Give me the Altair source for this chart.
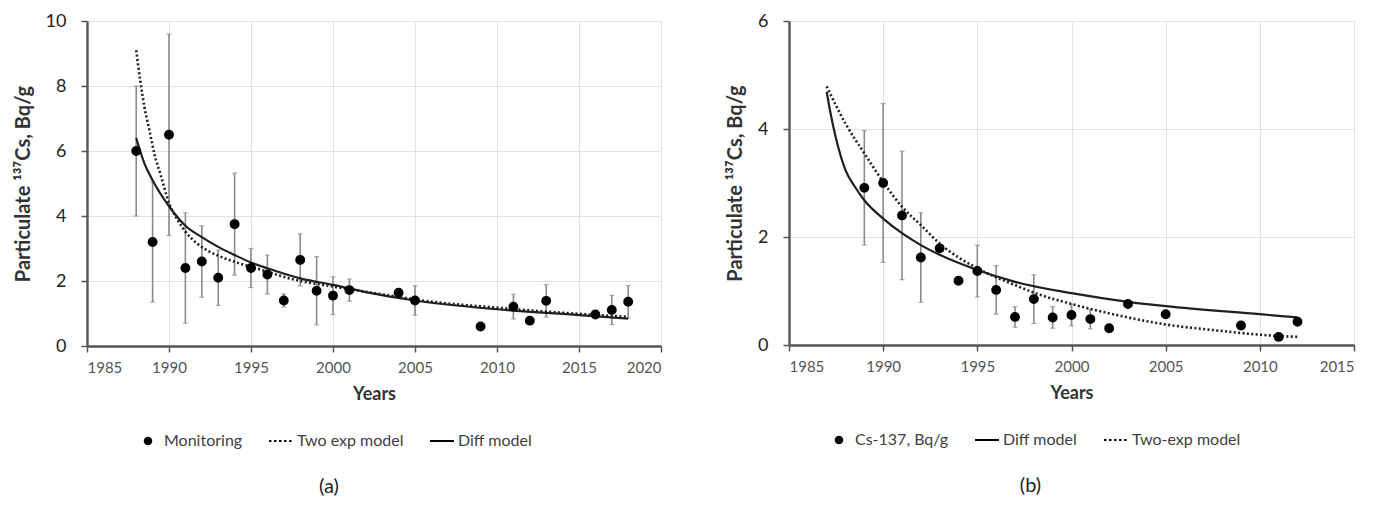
import altair as alt
import pandas as pd

# ---------------- Panel (a) data ----------------
years_a = [1988, 1989, 1990, 1991, 1992, 1993, 1994, 1995, 1996, 1997, 1998, 1999,
           2000, 2001, 2004, 2005, 2009, 2011, 2012, 2013, 2016, 2017, 2018]
vals_a = [6.0, 3.2, 6.5, 2.4, 2.6, 2.1, 3.75, 2.4, 2.2, 1.4, 2.65, 1.7,
          1.55, 1.72, 1.64, 1.4, 0.6, 1.21, 0.78, 1.39, 0.97, 1.11, 1.36]
err_a = [2.0, 1.85, 3.1, 1.7, 1.1, 0.85, 1.57, 0.6, 0.6, 0.2, 0.8, 1.05,
         0.58, 0.34, 0, 0.45, 0, 0.38, 0, 0.5, 0, 0.45, 0.5]

diff_a_x = [1988, 1988.5, 1989, 1990, 1991, 1992, 1993, 1994, 1995, 1996, 1998,
            2000, 2002, 2005, 2010, 2015, 2018]
diff_a_y = [6.4, 5.62, 5.1, 4.3, 3.7, 3.35, 3.05, 2.8, 2.57, 2.39, 2.08,
            1.88, 1.66, 1.4, 1.13, 0.95, 0.84]

two_a_x = [1988, 1988.25, 1988.5, 1988.8, 1989.1, 1989.5, 1990, 1990.5, 1991, 1991.7,
           1992.3, 1993, 1994, 1995, 1998, 2000, 2004, 2005, 2010, 2015, 2018]
two_a_y = [9.1, 8.15, 7.36, 6.65, 5.93, 5.25, 4.4, 3.9, 3.52, 3.16,
           2.95, 2.78, 2.59, 2.44, 2.0, 1.83, 1.51, 1.43, 1.18, 0.99, 0.9]

legend_a = ["Monitoring", "Two exp model", "Diff model"]

# ---------------- Panel (b) data ----------------
years_b = [1989, 1990, 1991, 1992, 1993, 1994, 1995, 1996, 1997, 1998, 1999, 2000,
           2001, 2002, 2003, 2005, 2009, 2011, 2012]
vals_b = [2.91, 3.0, 2.4, 1.62, 1.79, 1.19, 1.37, 1.02, 0.52, 0.85, 0.51, 0.555,
          0.48, 0.31, 0.76, 0.57, 0.36, 0.15, 0.43]
err_b = [1.06, 1.47, 1.19, 0.83, 0, 0, 0.48, 0.45, 0.19, 0.45, 0.2, 0.2,
         0.18, 0, 0, 0, 0, 0, 0]

diff_b_x = [1987, 1987.2, 1987.5, 1988, 1988.5, 1989, 1990, 1991, 1992, 1993, 1995,
            1997, 2000, 2003, 2005, 2010, 2012]
diff_b_y = [4.69, 4.3, 3.82, 3.24, 2.93, 2.68, 2.34, 2.07, 1.85, 1.67, 1.39,
            1.17, 0.96, 0.8, 0.72, 0.57, 0.51]

two_b_x = [1987, 1988, 1989, 1990, 1991, 1992, 1993, 1995, 1997, 1998, 2000,
           2002.4, 2005, 2007.7, 2010.2, 2012]
two_b_y = [4.79, 4.1, 3.55, 3.02, 2.56, 2.22, 1.88, 1.42, 1.11, 0.97, 0.76,
           0.555, 0.38, 0.27, 0.185, 0.15]

legend_b = ["Cs-137, Bq/g", "Diff model", "Two-exp model"]

# ---------------- styling ----------------
FONT = "Lato"
DOT = "M-0.27,0A0.27,0.27 0 1,0 0.27,0A0.27,0.27 0 1,0 -0.27,0Z"
SOLID = "M-1,0H1"
DOTTED = "M-1,0H-0.8M-0.58,0H-0.38M-0.16,0H0.04M0.26,0H0.46M0.68,0H0.88"

Y_TITLE = "Particulate \u00b9\u00b3\u2077Cs, Bq/g"


def panel(years, vals, errs, dx, dy, tx, ty, legend_names, shape_range,
          xdom, ydom, ystep, w, h, caption, cap_dx, leg_x):
    pts = pd.DataFrame({"year": years, "value": vals, "err": errs})
    pts["series"] = legend_names[0]
    pts["lo"] = pts["value"] - pts["err"]
    pts["hi"] = pts["value"] + pts["err"]
    eb = pts[pts["err"] > 0]
    diff = pd.DataFrame({"year": dx, "value": dy})
    two = pd.DataFrame({"year": tx, "value": ty})

    xs = alt.Scale(domain=xdom, nice=False, zero=False)
    ys = alt.Scale(domain=ydom, nice=False)
    xax = alt.Axis(values=list(range(xdom[0], xdom[1] + 1, 5)), format="d",
                   title="Years")
    yax = alt.Axis(values=list(range(ydom[0], ydom[1] + 1, ystep)), format="d",
                   title=Y_TITLE)

    X = alt.X("year:Q", scale=xs, axis=xax)
    Y = alt.Y("value:Q", scale=ys, axis=yax)

    bars = alt.Chart(eb).mark_rule(color="#8a8a8a", strokeWidth=1.6).encode(
        x=alt.X("year:Q", scale=xs), y=alt.Y("lo:Q", scale=ys), y2="hi:Q")
    cap_lo = alt.Chart(eb).mark_tick(orient="horizontal", color="#8a8a8a",
                                     size=5, thickness=1.2).encode(
        x=alt.X("year:Q", scale=xs), y=alt.Y("lo:Q", scale=ys))
    cap_hi = alt.Chart(eb).mark_tick(orient="horizontal", color="#8a8a8a",
                                     size=5, thickness=1.2).encode(
        x=alt.X("year:Q", scale=xs), y=alt.Y("hi:Q", scale=ys))

    solid = alt.Chart(diff).mark_line(color="#1f1f1f", strokeWidth=2.2,
                                      interpolate="monotone").encode(x=X, y=Y)
    dotted = alt.Chart(two).mark_line(color="#1f1f1f", strokeWidth=2.6,
                                      strokeDash=[2, 2.4],
                                      interpolate="monotone").encode(x=X, y=Y)

    points = alt.Chart(pts).mark_point(filled=True, color="black",
                                       stroke="black", strokeWidth=1.8,
                                       size=900, opacity=1).encode(
        x=X, y=Y,
        shape=alt.Shape("series:N",
                        scale=alt.Scale(domain=legend_names, range=shape_range),
                        legend=alt.Legend(orient="none", direction="horizontal",
                                          columns=3, title=None,
                                          legendX=leg_x, legendY=h + 82,
                                          symbolSize=576, labelFontSize=16,
                                          labelFont=FONT, labelColor="#404040",
                                          labelOffset=3, columnPadding=22,
                                          symbolStrokeWidth=2)))

    layer = alt.layer(bars, cap_lo, cap_hi, dotted, solid, points).properties(
        width=w, height=h,
        title=alt.TitleParams(caption, orient="bottom", anchor="middle",
                              fontSize=20, fontWeight="normal", font=FONT,
                              color="#222222", offset=28, dx=cap_dx))
    return layer


left = panel(years_a, vals_a, err_a, diff_a_x, diff_a_y, two_a_x, two_a_y,
             legend_a, [DOT, DOTTED, SOLID], [1985, 2020], [0, 10], 2,
             574, 325, "(a)", -45, 48)
right = panel(years_b, vals_b, err_b, diff_b_x, diff_b_y, two_b_x, two_b_y,
              legend_b, [DOT, SOLID, DOTTED], [1985, 2015], [0, 6], 2,
              565, 324, "(b)", -41, 37)

chart = alt.hconcat(left, right, spacing=63).resolve_scale(
    x="independent", y="independent", shape="independent"
).resolve_legend(shape="independent").configure_view(stroke=None).configure_axis(
    grid=True, gridColor="#e2e2e2", gridWidth=1,
    domainColor="#555555", domainWidth=2.4,
    tickColor="#555555", tickWidth=1.5, tickSize=6,
    labelFont=FONT, titleFont=FONT,
).configure_axisX(
    labelFontSize=15, labelColor="#555555", labelPadding=8,
    titleFontSize=18, titleFontWeight="bold", titleColor="#333333", titlePadding=10,
).configure_axisY(
    labelFontSize=18, labelColor="#222222", labelPadding=15,
    titleFontSize=20, titleFontWeight="bold", titleColor="#333333", titlePadding=12,
).properties(padding={"left": 13, "top": 12, "right": 5, "bottom": 5},
             background="white")

chart.save("out.html", embed_options={"renderer": "svg", "actions": False})
